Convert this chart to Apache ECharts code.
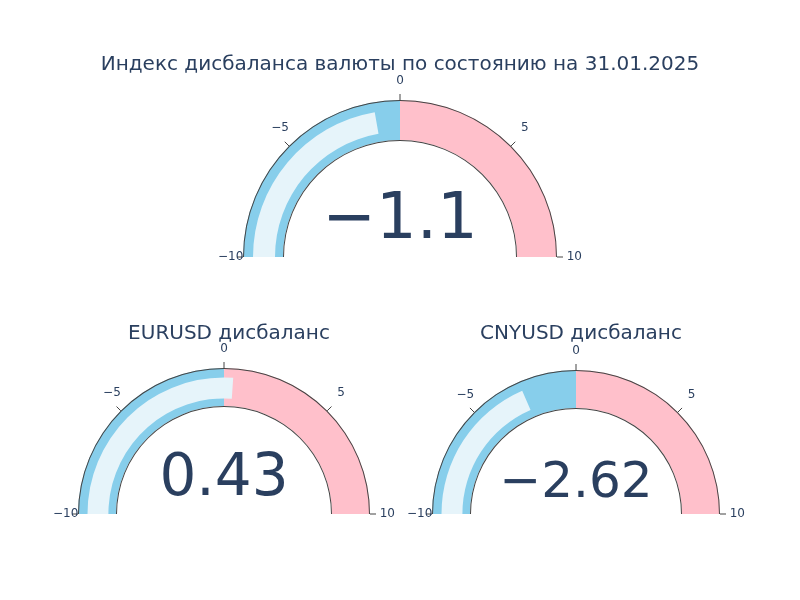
<!DOCTYPE html>
<html>
<head>
<meta charset="utf-8">
<script src="https://cdn.jsdelivr.net/npm/echarts@6/dist/echarts.min.js"></script>
<style>html,body{margin:0;background:#fff}#chart{width:800px;height:600px}</style>
</head>
<body>
<div id="chart"></div>
<script>
var chartTitle = 'Индекс дисбаланса валюты по состоянию на 31.01.2025';
var gaugeTitles = ['', 'EURUSD дисбаланс', 'CNYUSD дисбаланс'];
var gaugeValues = [-1.1, 0.43, -2.62];
var gaugeLabels = ['−1.1', '0.43', '−2.62'];
var rangeMin = -10, rangeMax = 10;
var stepColors = [[0.5, '#87ceeb'], [1, '#ffc0cb']];

// layout per gauge: center, outer radius, band width, value font
var layout = [
  {c: [400, 257], r: 157, w: 40, font: 64, off: -36},
  {c: [224, 514], r: 146, w: 38, font: 58, off: -34},
  {c: [576, 514], r: 144, w: 38, font: 50, off: -30}
];

var txt = '#2a3f5f';
var font = '"DejaVu Sans", Verdana, sans-serif';
function fmt(v) { return v < 0 ? '−' + Math.abs(v) : '' + v; }

var series = [];
layout.forEach(function (g, i) {
  var base = {
    type: 'gauge', center: g.c, startAngle: 180, endAngle: 0,
    min: rangeMin, max: rangeMax, splitNumber: 4,
    pointer: {show: false}, axisTick: {show: false}, splitLine: {show: false},
    axisLabel: {show: false}, detail: {show: false}, title: {show: false},
    anchor: {show: false}
  };
  // coloured steps
  series.push(Object.assign({}, base, {
    radius: g.r,
    axisLine: {lineStyle: {width: g.w, color: stepColors}},
    data: [{value: gaugeValues[i]}]
  }));
  // value bar
  series.push(Object.assign({}, base, {
    radius: g.r - g.w * 0.25,
    axisLine: {lineStyle: {width: 0, color: [[1, 'rgba(0,0,0,0)']]}},
    progress: {show: true, width: g.w * 0.55, roundCap: false, itemStyle: {color: '#e6f4fa'}},
    data: [{value: gaugeValues[i]}],
    detail: {show: true, offsetCenter: [0, g.off], fontSize: g.font, fontWeight: 'normal', color: txt,
      fontFamily: font, formatter: function () { return gaugeLabels[i]; }}
  }));
  // outlines + ticks
  series.push(Object.assign({}, base, {
    radius: g.r,
    axisLine: {lineStyle: {width: 1, color: [[1, '#444']]}},
    splitLine: {show: true, length: 6, distance: -7, lineStyle: {color: '#444', width: 1}},
    axisLabel: {show: true, distance: -24, color: txt, fontSize: 12, fontFamily: font,
      formatter: fmt},
    data: [{value: 0}]
  }));
  series.push(Object.assign({}, base, {
    radius: g.r - g.w,
    axisLine: {lineStyle: {width: 1, color: [[1, '#444']]}},
    data: [{value: 0}]
  }));
});

var chart = echarts.init(document.getElementById('chart'));
chart.setOption({
  backgroundColor: '#fff',
  title: [
    {text: chartTitle, left: 'center', top: 50, textStyle: {fontSize: 20, fontWeight: 'normal', color: txt, fontFamily: font}},
    {text: gaugeTitles[1], left: 224, top: 319, textAlign: 'center', textStyle: {fontSize: 20, fontWeight: 'normal', color: txt, fontFamily: font}},
    {text: gaugeTitles[2], left: 576, top: 319, textAlign: 'center', textStyle: {fontSize: 20, fontWeight: 'normal', color: txt, fontFamily: font}}
  ],
  series: series
});
</script>
</body>
</html>
